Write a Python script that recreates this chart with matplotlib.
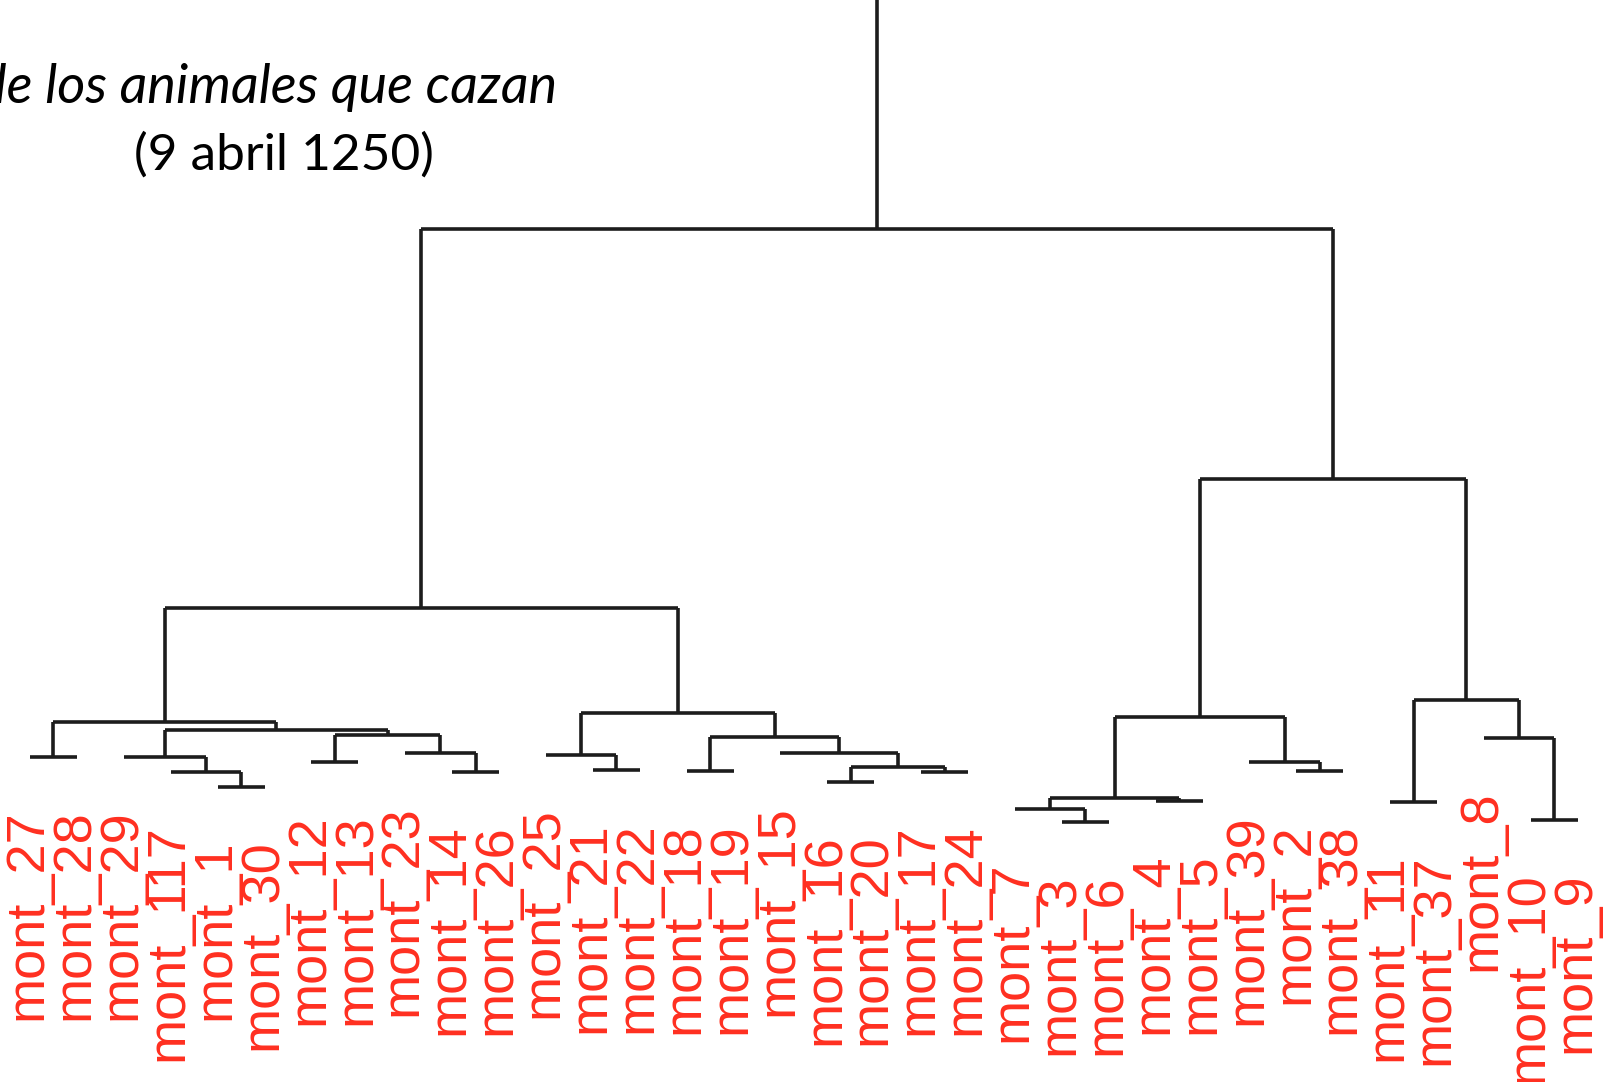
import matplotlib.pyplot as plt
from matplotlib import font_manager

# leaves in plotting order (left to right)
labels = [
    "mont_27", "mont_28", "mont_29", "mont_117", "mont_1", "mont_30",
    "mont_12", "mont_13", "mont_23", "mont_14", "mont_26", "mont_25",
    "mont_21", "mont_22", "mont_18", "mont_19", "mont_15", "mont_16",
    "mont_20", "mont_17", "mont_24", "mont_7", "mont_3", "mont_6",
    "mont_4", "mont_5", "mont_39", "mont_2", "mont_38", "mont_11",
    "mont_37", "mont_8", "mont_10", "mont_9",
]

# hclust-style merge table: negative = leaf position (1-based), positive = earlier merge row
merge_a = [-23, -33, -22, -30, -25, 3, -5, -18, -10, -4, -20, -15, -28, -13, 8, -7, -27,
           -1, -3, -12, -9, -17, -32, 12, 16, 19, 18, 6, 20, 4, 27, 28, 31]
merge_b = [-24, -34, 1, -31, -26, 5, -6, -19, -11, 7, -21, -16, -29, -14, 11, -8, 13,
           -2, 10, 14, 9, 15, 2, 22, 21, 25, 26, 17, 24, 23, 29, 30, 32]
heights = [0.8, 1.0, 2.1, 2.8, 2.9, 3.2, 4.3, 4.8, 5.8, 5.8, 5.8, 5.9, 5.9, 6.0, 6.3, 6.8, 6.8,
           7.3, 7.3, 7.5, 7.7, 7.7, 9.2, 9.3, 9.5, 10.0, 10.8, 11.3, 11.7, 13.0, 22.2, 35.1, 60.1]

title = "de los animales que cazan"
subtitle = "(9 abril 1250)"

names = {f.name for f in font_manager.fontManager.ttflist}
if "Liberation Sans Narrow" in names:
    label_font, label_size = "Liberation Sans Narrow", 48
else:
    label_font, label_size = "Liberation Sans", 39
title_font = ["Lato", "Open Sans", "DejaVu Sans"]

fig = plt.figure(figsize=(16.15, 10.82), dpi=100)
ax = fig.add_axes([0, 0, 1, 1])
ax.set_xlim(0.36, 34.795)
ax.set_ylim(-25.2, 83.0)
ax.axis("off")

line_kw = dict(color="#1c1c1c", lw=2.6, solid_capstyle="butt")

node_x = {}
leaf_parent_h = {}
for j, (a, b, h) in enumerate(zip(merge_a, merge_b, heights), start=1):
    xs = []
    for c in (a, b):
        if c < 0:
            xs.append(-c)
            leaf_parent_h[-c] = h
        else:
            cx = node_x[c]
            xs.append(cx)
            ax.plot([cx, cx], [heights[c - 1], h], **line_kw)
    ax.plot([xs[0], xs[1]], [h, h], **line_kw)
    node_x[j] = (xs[0] + xs[1]) / 2

# trunk above the root
root = len(heights)
ax.plot([node_x[root], node_x[root]], [heights[-1], 83.0], **line_kw)

for i, lab in enumerate(labels, start=1):
    ax.text(i - 0.05, leaf_parent_h[i] - 5.2, lab, rotation=90, ha="center", va="top",
            color="#ff2f20", fontsize=label_size, family=label_font)

ax.text(557 / 1615, 1 - 103 / 1082, title, transform=ax.transAxes, ha="right",
        va="baseline", fontsize=39, style="italic", family=title_font, color="black")
ax.text(284 / 1615, 1 - 170 / 1082, subtitle, transform=ax.transAxes, ha="center",
        va="baseline", fontsize=37, family=title_font, color="black")

fig.savefig("out.png", dpi=100)
